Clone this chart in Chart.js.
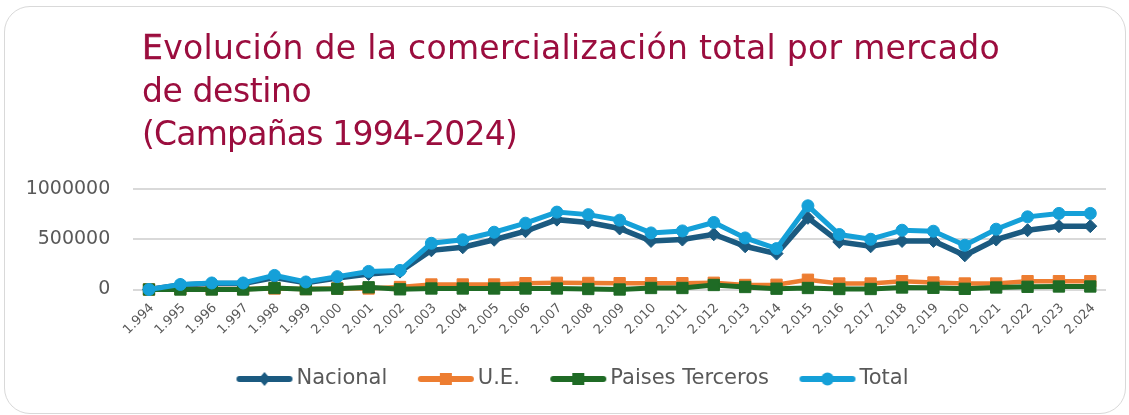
<!DOCTYPE html>
<html><head><meta charset="utf-8">
<script src="https://cdn.jsdelivr.net/npm/chart.js@4.4.1/dist/chart.umd.min.js"></script>
<style>
html,body{margin:0;padding:0;background:#fff;width:1129px;height:415px;overflow:hidden;}
#card{position:absolute;left:4px;top:6px;width:1122px;height:408px;border:1.5px solid #d9d9d9;border-radius:26px;box-sizing:border-box;}
#title{position:absolute;left:142px;top:26px;font-family:'DejaVu Sans';font-size:33px;line-height:43px;color:#9b0d3e;white-space:nowrap;z-index:2;}
#title .e{-webkit-text-stroke:0.6px #9b0d3e;}
#c{position:absolute;left:0;top:0;}
</style></head>
<body>
<div id="card"></div>
<div id="title"><span style="letter-spacing:0.3px"><span class="e">E</span>volución de la comercialización total por mercado</span><br><span style="letter-spacing:-0.4px">de destino</span><br><span style="letter-spacing:-0.8px">(Campañas 1994-2024)</span></div>
<canvas id="c" width="1129" height="415"></canvas>
<script>
const categories = ['1.994','1.995','1.996','1.997','1.998','1.999','2.000','2.001','2.002','2.003','2.004','2.005','2.006','2.007','2.008','2.009','2.010','2.011','2.012','2.013','2.014','2.015','2.016','2.017','2.018','2.019','2.020','2.021','2.022','2.023','2.024'];
const seriesNames = ['Nacional','U.E.','Paises Terceros','Total'];
const nacional = [0,45000,60000,60000,120000,68000,115000,155000,178000,390000,420000,495000,580000,695000,667000,607000,483000,497000,550000,430000,357000,713000,473000,430000,483000,483000,340000,497000,590000,630000,630000];
const ue = [0,5000,5000,5000,10000,5000,10000,10000,25000,50000,50000,50000,63000,67000,65000,63000,63000,63000,67000,45000,47000,97000,60000,60000,83000,70000,60000,60000,83000,83000,83000];
const paisesTerceros = [0,0,0,0,15000,3000,8000,22000,2000,10000,10000,10000,10000,10000,5000,0,15000,15000,45000,25000,8000,15000,5000,5000,20000,17000,7000,20000,27000,30000,30000];
const total = [0,50000,65000,65000,140000,75000,128000,180000,190000,460000,495000,570000,660000,770000,745000,690000,563000,583000,667000,513000,407000,833000,547000,500000,590000,580000,440000,600000,723000,757000,757000];
const yTicks = [0,500000,1000000];
const yTickLabels = ['0','500000','1000000'];

const colors = ['#1b5a80','#ed7d31','#1f6b25','#15a0d8'];
const styles = ['rectRot','rect','rect','circle'];
const radii = [6.5,8,8,6];
const widths = [5.5,4.5,5,5];

function makeIcon(color, style, lw){
  const c = document.createElement('canvas');
  c.width = 58; c.height = 18;
  const g = c.getContext('2d');
  g.strokeStyle = color; g.fillStyle = color; g.lineWidth = lw; g.lineCap = 'round';
  g.beginPath(); g.moveTo(4,9); g.lineTo(54,9); g.stroke();
  g.beginPath();
  if (style === 'rectRot'){ g.moveTo(29,2); g.lineTo(35,9); g.lineTo(29,16); g.lineTo(23,9); g.closePath(); }
  else if (style === 'rect'){ g.rect(23,3,12,12); }
  else { g.arc(29,9,6.5,0,Math.PI*2); }
  g.fill();
  return c;
}
const icons = colors.map((c,i)=>makeIcon(c, styles[i], 6));

const values = [nacional, ue, paisesTerceros, total];
const datasets = values.map((v,i)=>({
  label: seriesNames[i],
  data: v,
  borderColor: colors[i],
  backgroundColor: colors[i],
  pointBackgroundColor: colors[i],
  pointBorderColor: colors[i],
  pointStyle: styles[i],
  pointRadius: radii[i],
  pointBorderWidth: 1,
  borderWidth: widths[i],
  tension: 0,
  clip: false,
  order: 4 - i
}));

const legendPlacer = {
  id: 'legendPlacer',
  afterLayout(chart){
    const lg = chart.legend; if (!lg) return;
    const h = lg.height, w = lg.width;
    lg.top = 331.5; lg.bottom = lg.top + h;
    lg.left = 206; lg.right = lg.left + w;
  }
};

new Chart(document.getElementById('c'), {
  type: 'line',
  data: { labels: categories, datasets },
  plugins: [legendPlacer],
  options: {
    responsive: false,
    animation: false,
    devicePixelRatio: 1,
    layout: { padding: { top: 189, left: 10, right: 23, bottom: 0 } },
    plugins: {
      tooltip: { enabled: false },
      title: { display: false },
      legend: {
        position: 'bottom',
        align: 'start',
        labels: {
          usePointStyle: true,
          pointStyleWidth: 43,
          padding: 37,
          color: '#595959',
          font: { family: 'DejaVu Sans', size: 21 },
          generateLabels: (chart) => chart.data.datasets.map((ds,i)=>({
            text: ds.label, pointStyle: icons[i], datasetIndex: i, hidden: false,
            fillStyle: colors[i], strokeStyle: colors[i], lineWidth: 0, fontColor: '#595959'
          }))
        }
      }
    },
    scales: {
      x: {
        offset: true,
        grid: { display: false },
        border: { display: false },
        ticks: { autoSkip: false, maxRotation: 45, minRotation: 45, padding: 3, labelOffset: 3, color: '#595959', font: { family: 'DejaVu Sans', size: 13 } },
        afterFit: (s) => { s.height = 57.5; }
      },
      y: {
        min: 0, max: 1000000,
        afterBuildTicks: (s) => { s.ticks = yTicks.map(v=>({value:v})); },
        grid: { color: '#d9d9d9', lineWidth: 2, drawTicks: false },
        border: { display: false },
        ticks: { padding: 23, color: '#595959', font: { family: 'DejaVu Sans', size: 19 },
          callback: (v) => yTickLabels[yTicks.indexOf(v)] },
        afterFit: (s) => { s.width = 123.3; }
      }
    }
  }
});
</script>
</body></html>
